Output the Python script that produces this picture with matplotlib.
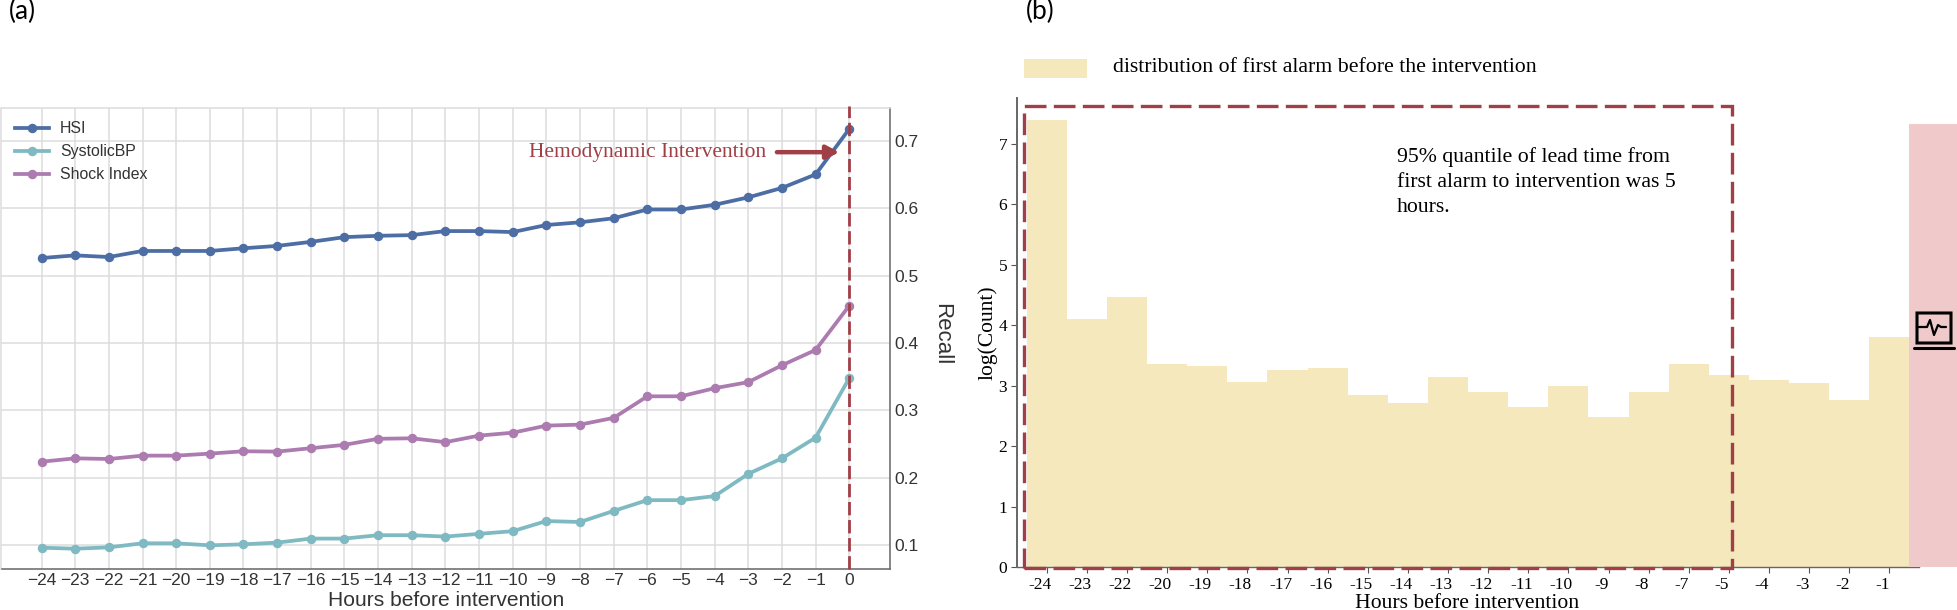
import matplotlib
matplotlib.use('Agg')
import matplotlib.pyplot as plt
import matplotlib.transforms as mtrans
from matplotlib.patches import Rectangle, FancyBboxPatch
from matplotlib.lines import Line2D
import numpy as np

W, H = 1958, 610

hours = list(range(-24, 1))
hsi = [0.526, 0.530, 0.5275, 0.5365, 0.5365, 0.5365, 0.5405, 0.544, 0.550, 0.557, 0.559, 0.560, 0.566,
       0.566, 0.5645, 0.575, 0.579, 0.585, 0.598, 0.598, 0.605, 0.616, 0.630, 0.650, 0.7175]
systolic = [0.0965, 0.095, 0.097, 0.103, 0.103, 0.100, 0.1015, 0.104, 0.110, 0.110, 0.115, 0.115, 0.113,
            0.117, 0.121, 0.136, 0.1346, 0.151, 0.167, 0.167, 0.173, 0.206, 0.229, 0.2597, 0.348]
shock = [0.224, 0.229, 0.228, 0.233, 0.233, 0.236, 0.2395, 0.239, 0.244, 0.249, 0.258, 0.2587, 0.253,
         0.2627, 0.267, 0.2775, 0.279, 0.289, 0.321, 0.321, 0.333, 0.342, 0.367, 0.3897, 0.4554]

bar_labels = ['-24', '-23', '-22', '-20', '-19', '-18', '-17', '-16', '-15', '-14', '-13', '-12', '-11',
              '-10', '-9', '-8', '-7', '-5', '-4', '-3', '-2', '-1']
log_count = [7.39, 4.10, 4.46, 3.365, 3.33, 3.06, 3.26, 3.30, 2.84, 2.71, 3.14, 2.89, 2.64, 3.0, 2.48,
             2.89, 3.365, 3.18, 3.09, 3.04, 2.77, 3.806]

RED = '#a13f47'
SERIF = 'Liberation Serif'
SANS = 'Liberation Sans'


def axes_px(left, top, right, bottom):
    return fig.add_axes([left / W, 1 - bottom / H, (right - left) / W, (bottom - top) / H])


def fig_line(xs, ys, lw, color='black'):
    fig.add_artist(Line2D([x / W for x in xs], [1 - y / H for y in ys], lw=lw, color=color,
                          solid_capstyle='round', solid_joinstyle='round'))


fig = plt.figure(figsize=(W / 100, H / 100), dpi=100)

# (a) recall
ax = axes_px(1.5, 108, 890, 569)
ax.plot(hours, hsi, color='#4c6ea5', lw=2.7, marker='o', ms=5.8, label='HSI')
ax.plot(hours, systolic, color='#7fb9c2', lw=2.7, marker='o', ms=5.8, label='SystolicBP')
ax.plot(hours, shock, color='#ac7bb0', lw=2.7, marker='o', ms=5.8, label='Shock Index')
ax.set_xlim(-25.19, 1.21)
ax.set_ylim(0.0649, 0.7485)
ax.set_xticks(hours)
ax.set_yticks([0.1, 0.2, 0.3, 0.4, 0.5, 0.6, 0.7])
ax.grid(True, color='#dcdcdc', lw=1.1)
ax.set_axisbelow(True)
ax.yaxis.tick_right()
ax.yaxis.set_label_position('right')
ax.tick_params(length=0, labelsize=12.5, labelcolor='#333333', pad=3)
for lab in ax.get_xticklabels() + ax.get_yticklabels():
    lab.set_fontfamily(SANS)
ax.spines['top'].set_color('#dcdcdc')
ax.spines['left'].set_color('#dcdcdc')
ax.spines['right'].set_color('#666666')
ax.spines['bottom'].set_color('#666666')
for s in ax.spines.values():
    s.set_linewidth(1.1)
ax.axvline(0, ymin=0, ymax=1.005, color=RED, lw=2.0, ls=(0, (4.8, 1.7)), zorder=5, clip_on=False)
ax.annotate('', xy=(-0.3, 0.683), xytext=(-2.15, 0.683),
            arrowprops=dict(arrowstyle='-|>,head_length=0.75,head_width=0.4', color=RED, lw=3.2,
                            shrinkA=0, shrinkB=0), zorder=6)
ax.text(-9.52, 0.683, 'Hemodynamic Intervention', color=RED, fontsize=15.5, family=SERIF,
        ha='left', va='center')
ax.legend(loc='upper left', frameon=False, prop={'family': SANS, 'size': 11.4}, handlelength=2.15,
          labelspacing=0.5, bbox_to_anchor=(0.008, 0.985), borderaxespad=0, handletextpad=0.7,
          labelcolor='#333333')
fig.text(446 / W, 1 - 601 / H, 'Hours before intervention', family=SANS, fontsize=15.1, color='#333333',
         ha='center', va='center')
fig.text(942 / W, 1 - 334 / H, 'Recall', family=SANS, fontsize=16, color='#333333', rotation=270,
         ha='center', va='center')

# (b) first alarm distribution
ax2 = axes_px(1017, 98, 1918.7, 567)
pos = np.arange(len(log_count))
ax2.bar(pos, log_count, width=1.0, color='#f5e8bc', lw=0)
ax2.set_xlim(-0.742, 21.73)
ax2.set_ylim(0, 7.76)
ax2.set_xticks(pos)
ax2.set_xticklabels(bar_labels)
ax2.set_yticks(range(8))
ax2.tick_params(length=4, width=0.8, color='#555555', labelsize=12.5, pad=3)
for lab in ax2.get_xticklabels() + ax2.get_yticklabels():
    lab.set_fontfamily(SERIF)
shift = mtrans.ScaledTranslation(-7 / 100, 0, fig.dpi_scale_trans)
for lab in ax2.get_xticklabels():
    lab.set_transform(lab.get_transform() + shift)
ax2.spines['top'].set_visible(False)
ax2.spines['right'].set_visible(False)
ax2.spines['left'].set_color('#666666')
ax2.spines['left'].set_linewidth(1.4)
ax2.spines['bottom'].set_color('#666666')
ax2.spines['bottom'].set_linewidth(1.0)
ax2.add_patch(Rectangle((-0.567, -0.02), 17.637, 7.64, fill=False, ec=RED, lw=2.4,
                        ls=(0, (6.5, 2.2)), clip_on=False, zorder=5))
fig.text(1397 / W, 1 - 147 / H, '95% quantile of lead time from\nfirst alarm to intervention was 5\nhours.',
         family=SERIF, fontsize=15.7, va='top', ha='left', linespacing=1.43)
fig.text(1467 / W, 1 - 603 / H, 'Hours before intervention', family=SERIF, fontsize=15.6, ha='center',
         va='center')
fig.text(988 / W, 1 - 333 / H, 'log(Count)', family=SERIF, fontsize=15.5, rotation=90, ha='center',
         va='center')

# legend swatch and alarm band
fig.add_artist(Rectangle((1024 / W, 1 - 78 / H), 63 / W, 19 / H, color='#f5e8bc', lw=0,
                         transform=fig.transFigure))
fig.text(1113 / W, 1 - 67 / H, 'distribution of first alarm before the intervention', family=SERIF,
         fontsize=15.65, va='center', ha='left')
fig.add_artist(Rectangle((1909.3 / W, 1 - 567 / H), 48.7 / W, 443 / H, color='#f0caca', lw=0,
                         transform=fig.transFigure))

# monitor icon
fig.add_artist(FancyBboxPatch((1917 / W, 1 - 343 / H), 34 / W, 30 / H, boxstyle='round,pad=0',
                              fc='none', ec='black', lw=2.2, transform=fig.transFigure))
fig_line([1914, 1954], [348, 348], 2.2)
fig_line([1917, 1927, 1930, 1934, 1938, 1941, 1946], [327, 327, 320, 335, 325, 327, 327], 1.6)

fig.text(9 / W, 1 - 11 / H, '(a)', family='Lato', fontsize=19, va='center', ha='left')
fig.text(1026 / W, 1 - 11 / H, '(b)', family='Lato', fontsize=19, va='center', ha='left')

plt.savefig('out.png', dpi=100)
